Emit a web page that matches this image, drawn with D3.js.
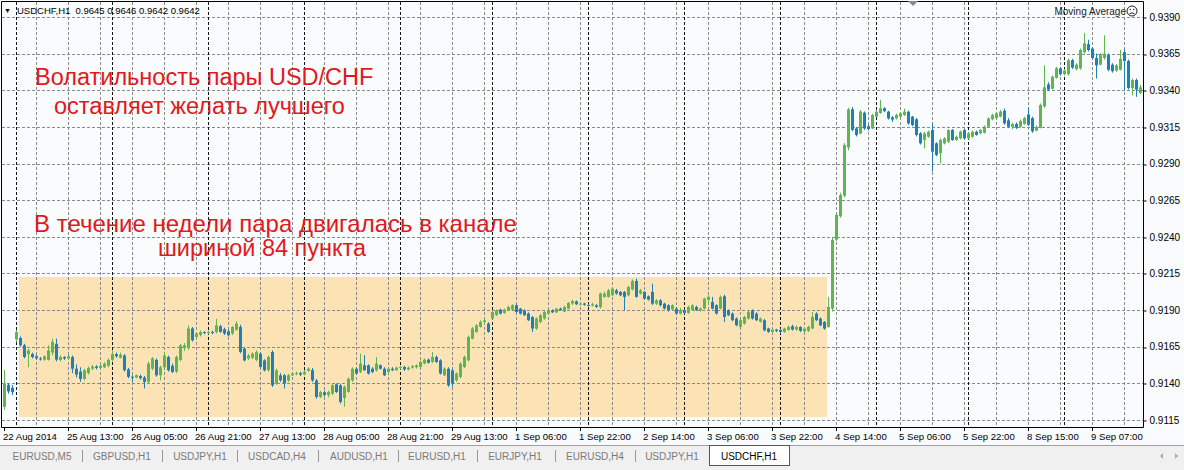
<!DOCTYPE html>
<html><head><meta charset="utf-8">
<script src="https://cdn.jsdelivr.net/npm/d3@7"></script>
<style>html,body{margin:0;padding:0;background:#fff;overflow:hidden}</style>
</head><body>
<svg id="c" width="1184" height="470"></svg>
<script>
// Hourly USDCHF bars, prices in pips (price × 10^4)
const OPEN=[9124,9139,9137,9170,9171,9166,9160,9160,9158.5,9157,9156.2,9156,9161,9167,9156,9158,9157,9158,9150,9148,9143,9147,9150,9151.5,9150.5,9151,9152,9156,9160,9157.5,
9159,9149.5,9144.5,9144,9145,9144,9141,9150,9156,9145.5,9151,9158,9152,9148,9156,9164,9164,9177.5,9171.7,9173,9175,9174.5,9175,9175,9179,9177,9175.5,9174,9176.5,9178.5,
9163.7,9157,9157.5,9156,9160.3,9155.7,9149,9161.4,9139.8,9145.5,9145.5,9142,9145.5,9146.5,9147,9146.2,9148.5,9149,9142,9130.7,9134,9132,9133,9139.4,9138.7,9130,9134.1,9142,9150,9147.8,
9152.3,9152.3,9150,9148.9,9152.3,9150,9147.8,9150,9149,9150.7,9151.2,9149.5,9150.7,9151,9151.2,9153.5,9156.2,9154.6,9158,9155.7,9145.5,9150,9148.9,9142.1,9144.4,9151.2,9155.7,9170.5,9175.1,9178.5,
9181.9,9180.8,9184.2,9186.5,9190.3,9188,9190,9190.3,9193.3,9191,9189.8,9187.6,9185.3,9177.4,9181.9,9184.2,9187.6,9189.8,9188.5,9191,9189,9191,9194.5,9196,9194,9194.5,9193.5,9193.1,9193.3,9192,
9199,9199,9200.1,9203.5,9202.4,9202.4,9200.1,9204,9209.9,9201.3,9202.4,9199.4,9202.4,9194.4,9196.7,9194.4,9193.3,9190.5,9191,9187.6,9189.9,9188.1,9190,9192.1,9189.9,9191,9197,9195.6,9193.3,9191,
9199.4,9189.9,9187.6,9184.2,9178.5,9180.8,9184.2,9189.9,9187.6,9182,9183.1,9177.4,9175.1,9176.7,9176.5,9175.1,9176.5,9179,9176.7,9178.5,9175.5,9175.8,9177.4,9187.6,9184.2,9181.9,9178.5,9191,9238,9254,
9268,9301,9327,9314,9310.5,9324.7,9315.5,9314,9322,9324.5,9327.7,9325.4,9321.5,9320.8,9322,9323.1,9325.4,9322,9320.2,9310.6,9306.1,9308.3,9312.9,9303.8,9297,9303.8,9304.9,9312.9,9306.1,9307.2,
9312.9,9307.2,9308.3,9311.7,9310.6,9311,9315.2,9320.2,9321,9322,9326,9319.5,9315,9317,9315.2,9317,9323.5,9321,9312.5,9314.5,9329,9344,9341,9348.5,9355,9351,9351,9360.5,9354.5,9355,
9366,9371.5,9368.5,9362,9357.5,9362,9364,9357.5,9353.5,9354,9366,9360,9341.5,9347,9338];
const HIGH=[9149,9140,9139,9176.5,9172,9167,9163.5,9161,9159.5,9158,9159,9166,9170.5,9170.5,9159,9158.5,9160,9159,9153,9151,9150,9151.5,9152.5,9152.5,9153,9154.5,9157,9162.5,9161,9161,
9160,9150.5,9145.5,9146,9146,9145,9155,9158,9157,9152,9161.5,9159,9153.5,9159,9167,9167.5,9179.6,9178.5,9175,9176,9175.5,9176,9176,9184,9180,9178,9176.5,9179,9182.4,9180,
9164.5,9160,9161,9162.5,9161,9156.5,9159,9162.5,9150,9147,9146.5,9146.5,9147.5,9148,9148,9149,9151,9150.5,9143,9135,9135,9135,9139.5,9140,9139.5,9138.5,9144,9151,9151,9160.3,
9159.2,9153,9151.2,9158,9153,9151,9150.5,9151,9151.5,9152,9152,9151.5,9152.5,9153,9155.5,9157,9157,9161.4,9159,9156.5,9151,9151,9150,9147.5,9154.5,9159,9172.5,9178.5,9180.5,9183,
9184.5,9181.8,9189.5,9190.5,9191,9191,9193,9194,9194.4,9191.5,9190.5,9188.5,9186,9185,9187.5,9189.5,9190.5,9190.5,9191.5,9191.7,9193,9195.5,9197,9196.5,9195.5,9195,9194.5,9195,9194,9202,
9202.5,9204.5,9205.5,9204.5,9203,9203,9206.5,9211,9211.5,9204.5,9203,9200,9208,9197.5,9197.5,9195,9194,9194,9192,9191.5,9190.5,9193,9194,9193,9191.8,9198.5,9200,9199,9194,9200,
9200.5,9190.5,9188.5,9185,9184,9186,9189.5,9190.5,9188.5,9185,9184,9178,9177.2,9177.2,9177.4,9178,9179.5,9180,9179.5,9179,9178,9179.5,9188.7,9188.5,9185,9182.5,9199,9240,9256.5,9270,
9304,9328,9328.5,9315,9326.5,9325.5,9316.5,9324,9326.5,9333.4,9328.5,9326,9322.5,9324,9325,9327.5,9326,9322.5,9321,9311.5,9311.5,9312.5,9317.4,9304.5,9307,9308,9313.5,9313.5,9309,9312.5,
9313.5,9311.5,9312.5,9312.5,9313.5,9316,9321.5,9324,9325,9326.5,9327.5,9321,9318,9318,9320,9322,9328.5,9322,9316,9331,9357,9345.5,9350,9356,9356,9354.5,9361.5,9361.5,9358.5,9368.5,
9379,9374.5,9369.5,9365,9365.5,9377.5,9365,9358.5,9358,9367.5,9368,9361,9348,9348,9343.6];
const LOW=[9122,9133,9132,9168,9165,9157,9151,9157,9156,9155.5,9155.5,9155.5,9159,9155,9155,9156,9156,9147,9144,9141,9142,9146,9149,9149.5,9150,9150.5,9151,9155,9157.5,9157,
9148,9143.5,9141,9143.5,9142.5,9136.5,9140,9149,9144.5,9142,9150,9148,9147,9147,9155,9162,9163,9168.5,9171,9172,9173.5,9173.5,9173.5,9174,9174.5,9173,9172,9173,9176,9160.5,
9155,9156,9156.5,9155,9150.5,9148,9148,9137.5,9139,9141,9136.4,9141,9145,9145.5,9145,9145.5,9148,9141,9129.5,9130,9131,9130.5,9132,9133.5,9126.2,9124,9133.5,9141,9146,9147,
9148.5,9146,9147,9148,9149.5,9145,9145.5,9148.5,9148.5,9149.5,9148.5,9148.9,9150,9150,9150.5,9153,9153.5,9154,9154,9146,9145,9137.6,9137.6,9141,9143.5,9150.5,9155,9170,9174.5,9178,
9180.5,9174.5,9183.5,9186,9187,9187.5,9189.5,9190,9188,9187,9186,9182.5,9175.1,9176.5,9181,9183.5,9187.5,9188,9188,9189.5,9188.5,9190.5,9193.5,9193.5,9193,9193,9192.5,9192.5,9191.5,9191,
9198.5,9198.5,9199.5,9200.5,9199.5,9189.9,9199.5,9203.5,9198.5,9200.5,9197,9196.5,9193.5,9193.5,9192.5,9190.5,9189,9190,9187,9187,9187.5,9187.5,9189.5,9189.5,9189,9190.5,9194.4,9190.5,9187,9190.5,
9181.9,9186,9182.5,9179,9178,9180,9183.5,9183.5,9182.5,9181.5,9175.5,9174.5,9174.5,9175,9174,9174.5,9176,9176,9176,9175,9175,9175,9177,9182.5,9179,9176.5,9178,9189,9237,9253,
9267,9299,9312,9308.5,9310,9313,9312.5,9313.5,9321.5,9324,9325,9320,9318.5,9320,9321.5,9322.5,9316.5,9315.5,9308.5,9303,9300.4,9307.5,9284.5,9295,9290.1,9303,9304,9305.5,9305.5,9306.5,
9306.5,9306.5,9307.5,9309,9310,9310.5,9314.5,9319.5,9320.5,9321.5,9316.5,9314.5,9313.5,9313.5,9314.5,9316.5,9315.5,9311,9312,9314,9328,9339.5,9340.5,9348,9350,9350,9350,9354.5,9353.5,9354,
9365,9366.5,9361,9348,9357,9361,9353,9352,9352.5,9353.5,9340,9340.5,9336.5,9335.5,9337.5];
const CLOSE=[9140,9134.5,9134,9175,9166,9158,9162.5,9158,9157,9156.5,9158.5,9162.5,9168.3,9156.2,9158,9157,9158.5,9150,9146,9143,9149,9150.5,9151.5,9150.5,9152,9153.5,9156,9160,9158.5,9159.5,
9149,9144.5,9144,9145.5,9143.5,9141,9153.5,9157,9145.5,9151,9159,9149,9147.8,9158,9166,9166,9177.4,9169.4,9174,9175,9174.5,9175,9174.5,9179.6,9175.1,9174,9172.8,9178.5,9180.8,9161.4,
9155.7,9159,9160.3,9161.4,9151.2,9148.9,9158,9138.7,9148.9,9142.1,9139.8,9145.5,9146.7,9147,9146,9147.8,9150,9142,9130.7,9134.1,9132,9134,9138.7,9134.1,9127.3,9137.6,9143.2,9150,9146.7,9153.5,
9149,9146.7,9147.8,9153.5,9150,9145.5,9150,9148.9,9150.7,9151.2,9149.5,9150.7,9151.7,9152.3,9154.6,9156.2,9154,9158,9154.6,9146.7,9150,9138.7,9139.8,9146.7,9153.5,9158,9171.7,9177.4,9179.6,9181.9,
9183,9175.1,9188.7,9189.8,9187.6,9190.3,9192.1,9193.3,9188.7,9187.6,9186.5,9183.1,9177.4,9184.2,9186.5,9188.7,9189.8,9188.5,9191,9190,9192.1,9194.9,9196.2,9194,9194.5,9193.6,9193.2,9194,9192.2,9201.3,
9201.3,9203.5,9204.7,9201.3,9200.1,9199,9205.8,9209.9,9199,9203.5,9197.8,9197.2,9194.4,9196.7,9193.3,9191,9189.9,9193.3,9187.6,9190,9188.1,9192.1,9193.3,9189.9,9191,9197.8,9199,9191,9187.6,9199,
9185.3,9186.5,9183.1,9179.6,9183.1,9185.3,9188.7,9184.2,9183.1,9184.2,9176.2,9175.1,9176.7,9175.8,9175.1,9177.4,9178.5,9176.7,9178.5,9175.8,9177.4,9178.5,9185.3,9183.1,9179.6,9177.4,9192.1,9237.8,9255,9268.5,
9302.7,9327,9313,9309.5,9325.4,9314,9313.5,9323.1,9325.4,9327.7,9325.8,9320.8,9320,9323.1,9324.3,9325.4,9317.4,9316.3,9309.5,9303.8,9310.6,9311.7,9298.1,9295.8,9306.1,9307.2,9312.9,9306.1,9308.3,9311.7,
9307.2,9310.6,9311.7,9309.5,9312.9,9315.2,9320.8,9323.1,9324.3,9325.4,9317.4,9315.2,9317,9314.5,9319,9321,9316.5,9312,9315,9330,9342,9340.5,9349.3,9355,9351,9353.5,9360.5,9355.5,9357.5,9367.5,
9372,9367.5,9362,9357,9364.5,9365,9354,9353,9357,9361.5,9360,9341.5,9347,9340.5,9342];
// Time-axis labels (one every 16 bars)
const timeLabels=["22 Aug 2014","25 Aug 13:00","26 Aug 05:00","26 Aug 21:00","27 Aug 13:00","28 Aug 05:00","28 Aug 21:00","29 Aug 13:00","1 Sep 06:00","1 Sep 22:00","2 Sep 14:00","3 Sep 06:00","3 Sep 22:00","4 Sep 14:00","5 Sep 06:00","5 Sep 22:00","8 Sep 15:00","9 Sep 07:00"];
// Bars that open a new trading day (period separators)
const dayStarts=[3,27,51,75,99,122,146,170,194,218,241,265];
const priceTicks=[0.9115,0.9140,0.9165,0.9190,0.9215,0.9240,0.9265,0.9290,0.9315,0.9340,0.9365,0.9390];
const tabs=["EURUSD,M5","GBPUSD,H1","USDJPY,H1","USDCAD,H4","AUDUSD,H1","EURUSD,H1","EURJPY,H1","EURUSD,H4","USDJPY,H1","USDCHF,H1"];
const channel={from:3.75,to:205.75,top:0.92126,bottom:0.9117};
const notesTop=["Волатильность пары USD/CHF","оставляет желать лучшего"];
const notesMid=["В течение недели пара двигалась в канале","шириной 84 пункта"];

const N=CLOSE.length;
const bars=d3.range(N).map(i=>({i,o:OPEN[i]/1e4,h:HIGH[i]/1e4,l:LOW[i]/1e4,c:CLOSE[i]/1e4}));
const svg=d3.select("#c");
const W=1184,H=470, R=1143, B=427;
const x=d3.scaleBand().domain(d3.range(N)).range([2,2+4*N]);
const xc=i=>x(i)+x.bandwidth()/2;
const xl=d3.scaleLinear().domain([0,N-1]).range([xc(0),xc(N-1)]);
const y=d3.scaleLinear().domain([0.9115,0.9390]).range([420,17]);
const FONT="'Liberation Sans', Arial, sans-serif";

svg.append("rect").attr("width",W).attr("height",H).attr("fill","#fafbfc");
// channel rectangle
svg.append("rect").attr("x",xl(channel.from)).attr("y",y(channel.top))
  .attr("width",xl(channel.to)-xl(channel.from)).attr("height",y(channel.bottom)-y(channel.top))
  .attr("fill","#fce3b6");
// horizontal grid
const g=svg.append("g");
g.selectAll(".hg").data(priceTicks).join("line")
  .attr("x1",2).attr("x2",R).attr("y1",d=>Math.round(y(d))+0.5).attr("y2",d=>Math.round(y(d))+0.5)
  .attr("stroke","#8a8a8a").attr("stroke-dasharray","3,2");
// vertical grid every 8 bars
const vg=d3.range(8,N,8).filter(i=>!dayStarts.includes(i));
g.selectAll(".vg").data(vg).join("line")
  .attr("x1",d=>xc(d)+0.5).attr("x2",d=>xc(d)+0.5).attr("y1",2).attr("y2",B)
  .attr("stroke","#8a8a8a").attr("stroke-dasharray","3,2");
g.selectAll(".ds").data(dayStarts).join("line")
  .attr("x1",d=>xc(d)+0.5).attr("x2",d=>xc(d)+0.5).attr("y1",2).attr("y2",B)
  .attr("stroke","#111").attr("stroke-dasharray","3,2");

// candles
const UP="#5fb554", DN="#1f80b6";
const cg=svg.append("g");
cg.selectAll(".w").data(bars).join("line")
  .attr("x1",d=>xc(d.i)+0.5).attr("x2",d=>xc(d.i)+0.5)
  .attr("y1",d=>y(d.h)).attr("y2",d=>y(d.l))
  .attr("stroke",d=>d.c>=d.o?UP:DN).attr("stroke-width",1);
cg.selectAll(".b").data(bars).join("rect")
  .attr("x",d=>xc(d.i)-1).attr("width",3)
  .attr("y",d=>y(Math.max(d.o,d.c)))
  .attr("height",d=>Math.max(1,Math.abs(y(d.o)-y(d.c))))
  .attr("fill",d=>d.c>=d.o?UP:DN);

// frame
svg.append("path").attr("d",`M1.5,1.5H${R+0.5}V${B+0.5}H1.5Z`).attr("fill","none").attr("stroke","#000");

// price axis
const ya=svg.append("g").attr("transform",`translate(${R+0.5},0)`)
  .call(d3.axisRight(y).tickValues(priceTicks).tickFormat(d3.format(".4f")).tickSize(3).tickPadding(3));
ya.select(".domain").remove();
ya.selectAll("line").attr("stroke","#000").attr("transform",d=>`translate(0,${Math.round(y(d))+0.5-y(d)})`);
ya.selectAll("text").attr("font-family",FONT).attr("font-size",10).attr("fill","#000");

// time axis
const tIdx=timeLabels.map((t,k)=>k*16);
const ta=svg.append("g");
ta.selectAll("line").data(tIdx).join("line")
  .attr("x1",d=>xc(d)+0.5).attr("x2",d=>xc(d)+0.5).attr("y1",B).attr("y2",B+4).attr("stroke","#000");
ta.selectAll("text").data(tIdx).join("text")
  .attr("x",d=>xc(d)-1).attr("y",440).text((d,k)=>timeLabels[k])
  .attr("font-family",FONT).attr("font-size",9.6).attr("fill","#000");

// header
svg.append("text").attr("x",4).attr("y",13).text("\u25BC").attr("font-family",FONT).attr("font-size",7).attr("fill","#000");
svg.append("text").attr("x",17).attr("y",14).attr("xml:space","preserve")
  .text("USDCHF,H1  0.9645 0.9646 0.9642 0.9642").attr("font-family",FONT).attr("font-size",9.5).attr("fill","#000");
svg.append("text").attr("x",1126).attr("y",15).attr("text-anchor","end").text("Moving Average")
  .attr("font-family",FONT).attr("font-size",10).attr("fill","#222");
const sm=svg.append("g").attr("transform","translate(1132,11)");
sm.append("circle").attr("r",5).attr("fill","none").attr("stroke","#222");
sm.append("circle").attr("cx",-1.8).attr("cy",-1.5).attr("r",0.7).attr("fill","#222");
sm.append("circle").attr("cx",1.8).attr("cy",-1.5).attr("r",0.7).attr("fill","#222");
sm.append("path").attr("d","M-2.5,2.8Q0,0.8 2.5,2.8").attr("fill","none").attr("stroke","#222");
svg.append("path").attr("d","M908,1H918L913,6Z").attr("fill","#888");

// annotations
const red="#e0191d", NF=23.5;
svg.append("text").attr("x",35).attr("y",85).text(notesTop[0]).attr("font-family",FONT).attr("font-size",NF).attr("fill",red);
svg.append("text").attr("x",54).attr("y",114).text(notesTop[1]).attr("font-family",FONT).attr("font-size",NF).attr("fill",red);
svg.append("text").attr("x",34).attr("y",232).text(notesMid[0]).attr("font-family",FONT).attr("font-size",24).attr("fill",red);
svg.append("text").attr("x",158).attr("y",256).text(notesMid[1]).attr("font-family",FONT).attr("font-size",NF).attr("fill",red);

// tab bar
svg.append("rect").attr("x",0).attr("y",445).attr("width",W).attr("height",25).attr("fill","#f0f0f0");
svg.append("line").attr("x1",0).attr("x2",W).attr("y1",445.5).attr("y2",445.5).attr("stroke","#a0a0a0");
const tabX=[42,122,200,277,359,437,515,595,672,749];
const sepX=[82,162,237,318,398,477,555,635];
svg.append("rect").attr("x",709.5).attr("y",445.5).attr("width",80).attr("height",20).attr("fill","#fff").attr("stroke","#555");
svg.selectAll(".sep").data(sepX).join("line").attr("x1",d=>d+0.5).attr("x2",d=>d+0.5).attr("y1",450).attr("y2",462).attr("stroke","#999");
svg.selectAll(".tab").data(tabs).join("text").attr("x",(d,k)=>tabX[k]).attr("y",460).attr("text-anchor","middle")
  .text(d=>d).attr("font-family",FONT).attr("font-size",10).attr("fill",(d,k)=>k===tabs.length-1?"#000":"#7a7a7a");
svg.append("path").attr("d","M1163,453L1160,456L1163,459Z").attr("fill","#aaa");
svg.append("path").attr("d","M1175,453L1178,456L1175,459Z").attr("fill","#aaa");
</script>
</body></html>
